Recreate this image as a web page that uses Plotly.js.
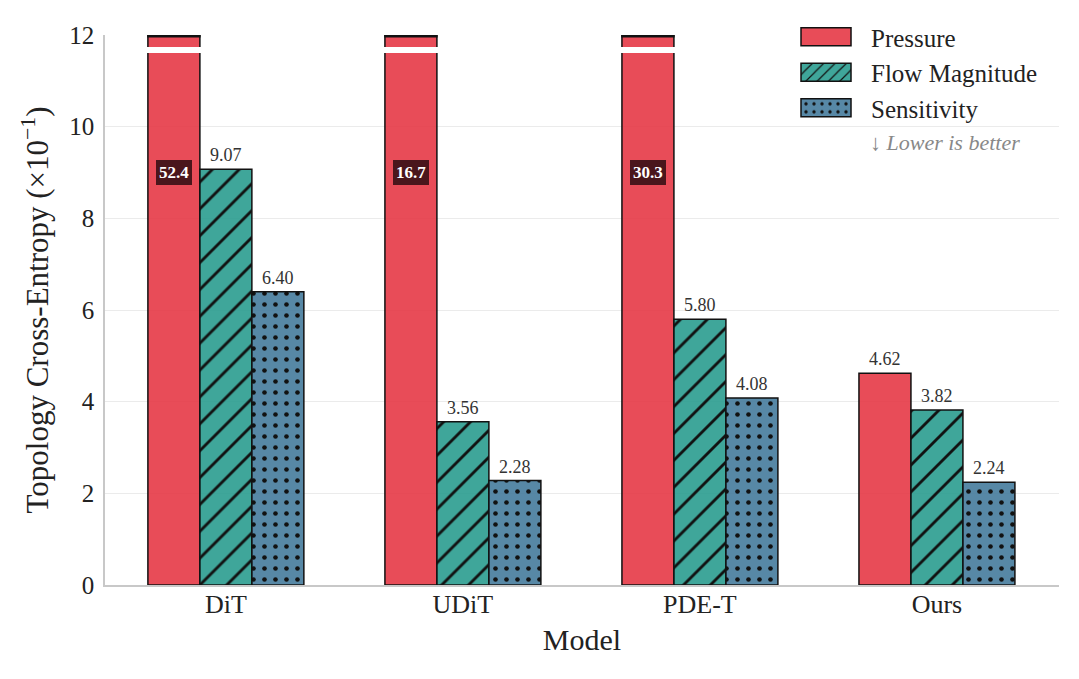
<!DOCTYPE html>
<html>
<head>
<meta charset="utf-8">
<script src="https://cdn.plot.ly/plotly-3.0.1.min.js"></script>
<style>
  html, body { margin: 0; padding: 0; background: #ffffff; }
  #chart { width: 1079px; height: 679px; }
</style>
</head>
<body>
<div id="chart"></div>
<script>
// Models and topology cross-entropy (x10^-1) per field
const models = ["DiT", "UDiT", "PDE-T", "Ours"];
const pressure = [52.4, 16.7, 30.3, 4.62];
const flowMagnitude = [9.07, 3.56, 5.80, 3.82];
const sensitivity = [6.40, 2.28, 4.08, 2.24];
const seriesNames = ["Pressure", "Flow Magnitude", "Sensitivity"];
const yTicks = [0, 2, 4, 6, 8, 10, 12];

const Y_MAX = 12;
const BAR_GAP = 0.342;
const SERIF = "Liberation Serif, Times New Roman, serif";

const colors = ["rgba(230,57,70,0.9)", "rgba(42,157,143,0.9)", "rgba(69,123,157,0.9)"];
const patterns = [
  { shape: "" },
  { shape: "/", fgcolor: "#111111", bgcolor: "rgba(42,157,143,0.9)", size: 19, solidity: 0.15, fillmode: "replace" },
  { shape: ".", fgcolor: "#111111", bgcolor: "rgba(69,123,157,0.9)", size: 11, solidity: 0.14, fillmode: "replace" }
];
const allSeries = [pressure, flowMagnitude, sensitivity];

const traces = allSeries.map((vals, j) => ({
  type: "bar",
  name: seriesNames[j],
  x: models,
  y: vals,
  marker: {
    color: colors[j],
    line: { color: "#111111", width: 1.5 },
    pattern: patterns[j]
  },
  hoverinfo: "x+y+name",
  cliponaxis: true
}));

// Bar slot geometry inside each category group
const barW = (1 - BAR_GAP) / seriesNames.length;
const offsetOf = j => (j - (seriesNames.length - 1) / 2) * barW;

const annotations = [];
const shapes = [];

allSeries.forEach((vals, j) => {
  vals.forEach((v, i) => {
    const xc = i + offsetOf(j);
    if (v > Y_MAX) {
      // Value exceeds the axis: boxed label inside the bar plus a break mark
      annotations.push({
        x: xc, y: Y_MAX * 0.75, xref: "x", yref: "y",
        text: "<b>" + v.toFixed(1) + "</b>",
        showarrow: false,
        font: { family: SERIF, size: 17, color: "#ffffff" },
        bgcolor: "#4a161c", borderpad: 2, bordercolor: "#4a161c", borderwidth: 1
      });
      shapes.push({
        type: "rect", xref: "x", yref: "y",
        x0: xc - barW / 2 - 0.01, x1: xc + barW / 2 + 0.01,
        y0: Y_MAX * 0.9675, y1: Y_MAX * 0.978,
        fillcolor: "#ffffff", line: { width: 0 }, layer: "above"
      });
      shapes.push({
        type: "line", xref: "x", yref: "y",
        x0: xc - barW / 2 - 0.003, x1: xc + barW / 2 + 0.003,
        y0: Y_MAX - 0.025, y1: Y_MAX - 0.025,
        line: { color: "#111111", width: 2.5 }, layer: "above"
      });
    } else {
      annotations.push({
        x: xc, y: v, xref: "x", yref: "y",
        text: v.toFixed(2),
        showarrow: false, yanchor: "bottom", yshift: 2,
        font: { family: SERIF, size: 18, color: "#333333" }
      });
    }
  });
});

annotations.push({
  xref: "paper", yref: "paper", x: 0.8, y: 0.805, xanchor: "left", yanchor: "middle",
  text: "↓ <i>Lower is better</i>", showarrow: false,
  font: { family: SERIF, size: 22, color: "#888888" }
});

const layout = {
  width: 1079, height: 679,
  margin: { l: 105, r: 20, t: 35, b: 94 },
  paper_bgcolor: "#ffffff", plot_bgcolor: "#ffffff",
  font: { family: SERIF, color: "#222222" },
  barmode: "group", bargap: BAR_GAP, bargroupgap: 0,
  xaxis: {
    type: "category",
    range: [-0.51, 3.515],
    showgrid: false, zeroline: false,
    showline: true, linecolor: "#c8c8c8", linewidth: 1.5,
    ticks: "", ticklabelstandoff: -5,
    tickfont: { family: SERIF, size: 26, color: "#222222" },
    title: { text: "Model", font: { family: SERIF, size: 30, color: "#222222" }, standoff: 11 }
  },
  yaxis: {
    range: [0, Y_MAX],
    tickvals: yTicks,
    showgrid: true, gridcolor: "#ebebeb", gridwidth: 1,
    zeroline: false,
    showline: true, linecolor: "#c8c8c8", linewidth: 1.5,
    ticks: "", ticklen: 0, ticklabelstandoff: 4,
    tickfont: { family: SERIF, size: 25, color: "#222222" },
    title: { text: "Topology Cross-Entropy (×10<sup>−1</sup>)", font: { family: SERIF, size: 31, color: "#222222" }, standoff: 11 }
  },
  legend: {
    x: 0.7086, y: 1.038, xanchor: "left", yanchor: "top",
    bgcolor: "rgba(255,255,255,0)",
    font: { family: SERIF, size: 25, color: "#222222" },
    itemwidth: 80
  },
  showlegend: true,
  annotations: annotations,
  shapes: shapes
};

Plotly.newPlot("chart", traces, layout, { displayModeBar: false, responsive: false }).then(gd => {
  // Wide rectangular legend swatches
  gd.querySelectorAll(".legend .legendpoints path").forEach(p => {
    p.setAttribute("d", "M25,9H-25V-9H25Z");
  });
});
</script>
</body>
</html>
